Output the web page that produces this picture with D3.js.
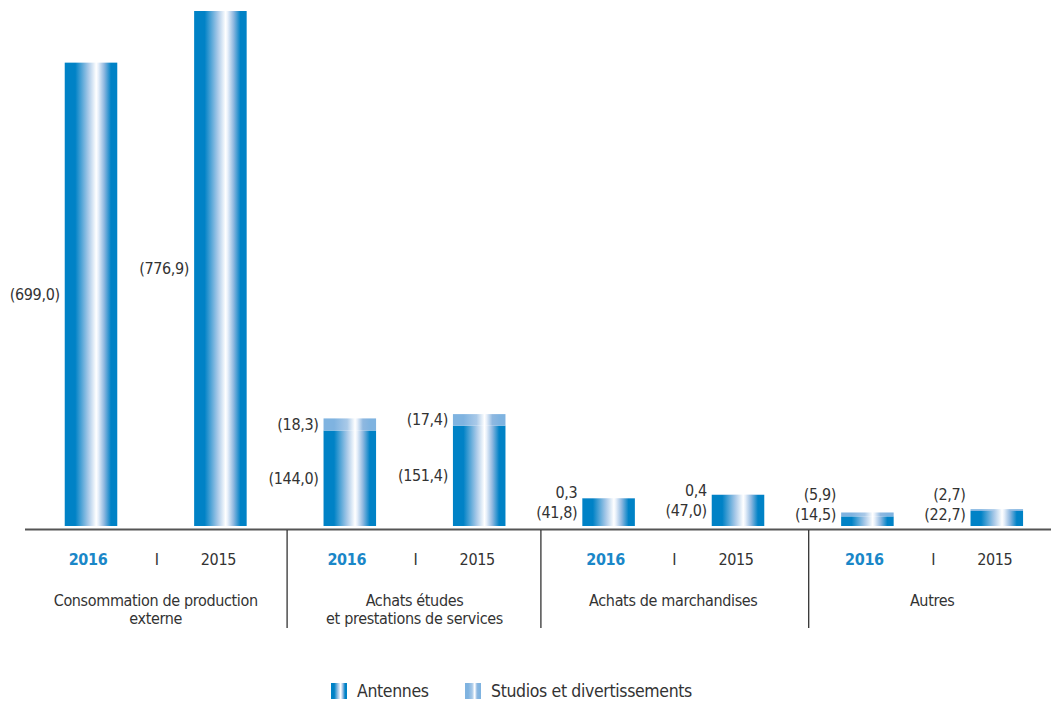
<!DOCTYPE html>
<html>
<head>
<meta charset="utf-8">
<script src="https://cdn.jsdelivr.net/npm/d3@7"></script>
<style>
  body { margin: 0; background: #fff; }
  svg text { font-family: "Liberation Sans Narrow", "DejaVu Sans Condensed", sans-serif; fill: #333; letter-spacing: -0.35px; }
</style>
</head>
<body>
<script>
// Data
var groups = ['Consommation de production|externe', 'Achats études|et prestations de services', 'Achats de marchandises', 'Autres']
var years = ['2016', '2015']
var antennes = [699.0, 776.9, 144.0, 151.4, 41.8, 47.0, 14.5, 22.7]
var studios = [0, 0, 18.3, 17.4, 0.3, 0.4, 5.9, 2.7]
var antLabels = ['(699,0)', '(776,9)', '(144,0)', '(151,4)', '(41,8)', '(47,0)', '(14,5)', '(22,7)']
var stuLabels = ['', '', '(18,3)', '(17,4)', '0,3', '0,4', '(5,9)', '(2,7)']
var legendNames = ['Antennes', 'Studios et divertissements']

var W = 1051, H = 703
var base = 526

var data = antennes.map(function (a, i) {
  return { key: 'b' + i, group: Math.floor(i / 2), year: years[i % 2], ant: a, stu: studios[i], antLabel: antLabels[i], stuLabel: stuLabels[i] }
})

var svg = d3.select('body').append('svg')
  .attr('width', W)
  .attr('height', H)

// Gradients
var defs = svg.append('defs')
function makeGrad(id, c) {
  var g = defs.append('linearGradient').attr('id', id)
    .attr('x1', '0%').attr('x2', '100%').attr('y1', '0%').attr('y2', '0%')
  var stops = [[0, c], [0.2, c], [0.45, '#a9c9e8'], [0.6, '#ffffff'], [0.64, '#e8f0fa'], [0.75, '#8fb8e0'], [0.88, c], [1, c]]
  stops.forEach(function (s) {
    g.append('stop').attr('offset', s[0]).attr('stop-color', s[1])
  })
}
makeGrad('gAnt', '#0082c6')
makeGrad('gStu', '#7fb3e0')

// Scales
var x = d3.scaleBand()
  .domain(data.map(function (d) { return d.key }))
  .range([26.3, 1061.5])
  .paddingInner(0.594)
  .paddingOuter(0.297)

var y = d3.scaleLinear()
  .domain([0, 793.5])
  .range([base, 0])

var bw = x.bandwidth()

// Bars
var bars = svg.selectAll('.bar')
  .data(data)
  .enter()
  .append('g')
    .attr('class', 'bar')

bars.append('rect')
  .attr('x', function (d) { return x(d.key) })
  .attr('y', function (d) { return y(d.ant) })
  .attr('width', bw)
  .attr('height', function (d) { return base - y(d.ant) })
  .attr('fill', 'url(#gAnt)')

bars.filter(function (d) { return d.stu > 0 })
  .append('rect')
  .attr('x', function (d) { return x(d.key) })
  .attr('y', function (d) { return y(d.ant + d.stu) })
  .attr('width', bw)
  .attr('height', function (d) { return y(d.ant) - y(d.ant + d.stu) })
  .attr('fill', 'url(#gStu)')

// Value labels
function antY(d) { return Math.min((y(d.ant) + base) / 2, base - 12) }
function stuY(d) { return Math.min((y(d.ant + d.stu) + y(d.ant)) / 2, antY(d) - 20) }

bars.append('text')
  .attr('x', function (d) { return x(d.key) - 5 })
  .attr('y', antY)
  .attr('dy', '0.35em')
  .attr('text-anchor', 'end')
  .attr('font-size', '16px')
  .text(function (d) { return d.antLabel })

bars.filter(function (d) { return d.stuLabel !== '' })
  .append('text')
  .attr('x', function (d) { return x(d.key) - 5 })
  .attr('y', stuY)
  .attr('dy', '0.35em')
  .attr('text-anchor', 'end')
  .attr('font-size', '16px')
  .text(function (d) { return d.stuLabel })

// Axis line
svg.append('line')
  .attr('x1', 25).attr('x2', W)
  .attr('y1', 529.5).attr('y2', 529.5)
  .attr('stroke', '#555')
  .attr('stroke-width', 2)

// Year labels
svg.selectAll('.year')
  .data(data)
  .enter()
  .append('text')
    .attr('class', 'year')
    .attr('x', function (d) { return x(d.key) + bw / 2 - (d.year === '2016' ? 3 : 2) })
    .attr('y', 559)
    .attr('dy', '0.35em')
    .attr('text-anchor', 'middle')
    .attr('font-size', '16px')
    .attr('font-weight', function (d) { return d.year === '2016' ? 'bold' : 'normal' })
    .style('fill', function (d) { return d.year === '2016' ? '#1a87c8' : '#333' })
    .text(function (d) { return d.year })

// Group labels, "I" marks, separators
groups.forEach(function (g, i) {
  var a = x('b' + (2 * i)) + bw / 2
  var b = x('b' + (2 * i + 1)) + bw / 2
  var c = (a + b) / 2
  svg.append('text')
    .attr('x', c + 1)
    .attr('y', 559)
    .attr('dy', '0.35em')
    .attr('text-anchor', 'middle')
    .attr('font-size', '16px')
    .text('I')
  var lines = g.split('|')
  lines.forEach(function (l, j) {
    svg.append('text')
      .attr('x', c)
      .attr('y', 600 + j * 18)
      .attr('dy', '0.35em')
      .attr('text-anchor', 'middle')
      .attr('font-size', '16px')
      .text(l)
  })
  if (i < groups.length - 1) {
    var nx = x('b' + (2 * i + 2))
    var sx = (b + bw / 2 + nx) / 2 + (i === 2 ? 6 : i === 1 ? -3 : 2)
    svg.append('line')
      .attr('x1', sx).attr('x2', sx)
      .attr('y1', 530).attr('y2', 628)
      .attr('stroke', '#333')
      .attr('stroke-width', 1.3)
  }
})

// Legend
var legend = svg.selectAll('.legend')
  .data(legendNames)
  .enter()
  .append('g')
    .attr('class', 'legend')
    .attr('transform', function (d, i) { return 'translate(' + (i === 0 ? 331 : 465) + ',683)' })

legend.append('rect')
  .attr('width', 16)
  .attr('height', 16)
  .attr('fill', function (d, i) { return i === 0 ? 'url(#gAnt)' : 'url(#gStu)' })

legend.append('text')
  .attr('x', 26)
  .attr('y', 8)
  .attr('dy', '0.35em')
  .attr('font-size', '17.5px')
  .text(function (d) { return d })
</script>
</body>
</html>
